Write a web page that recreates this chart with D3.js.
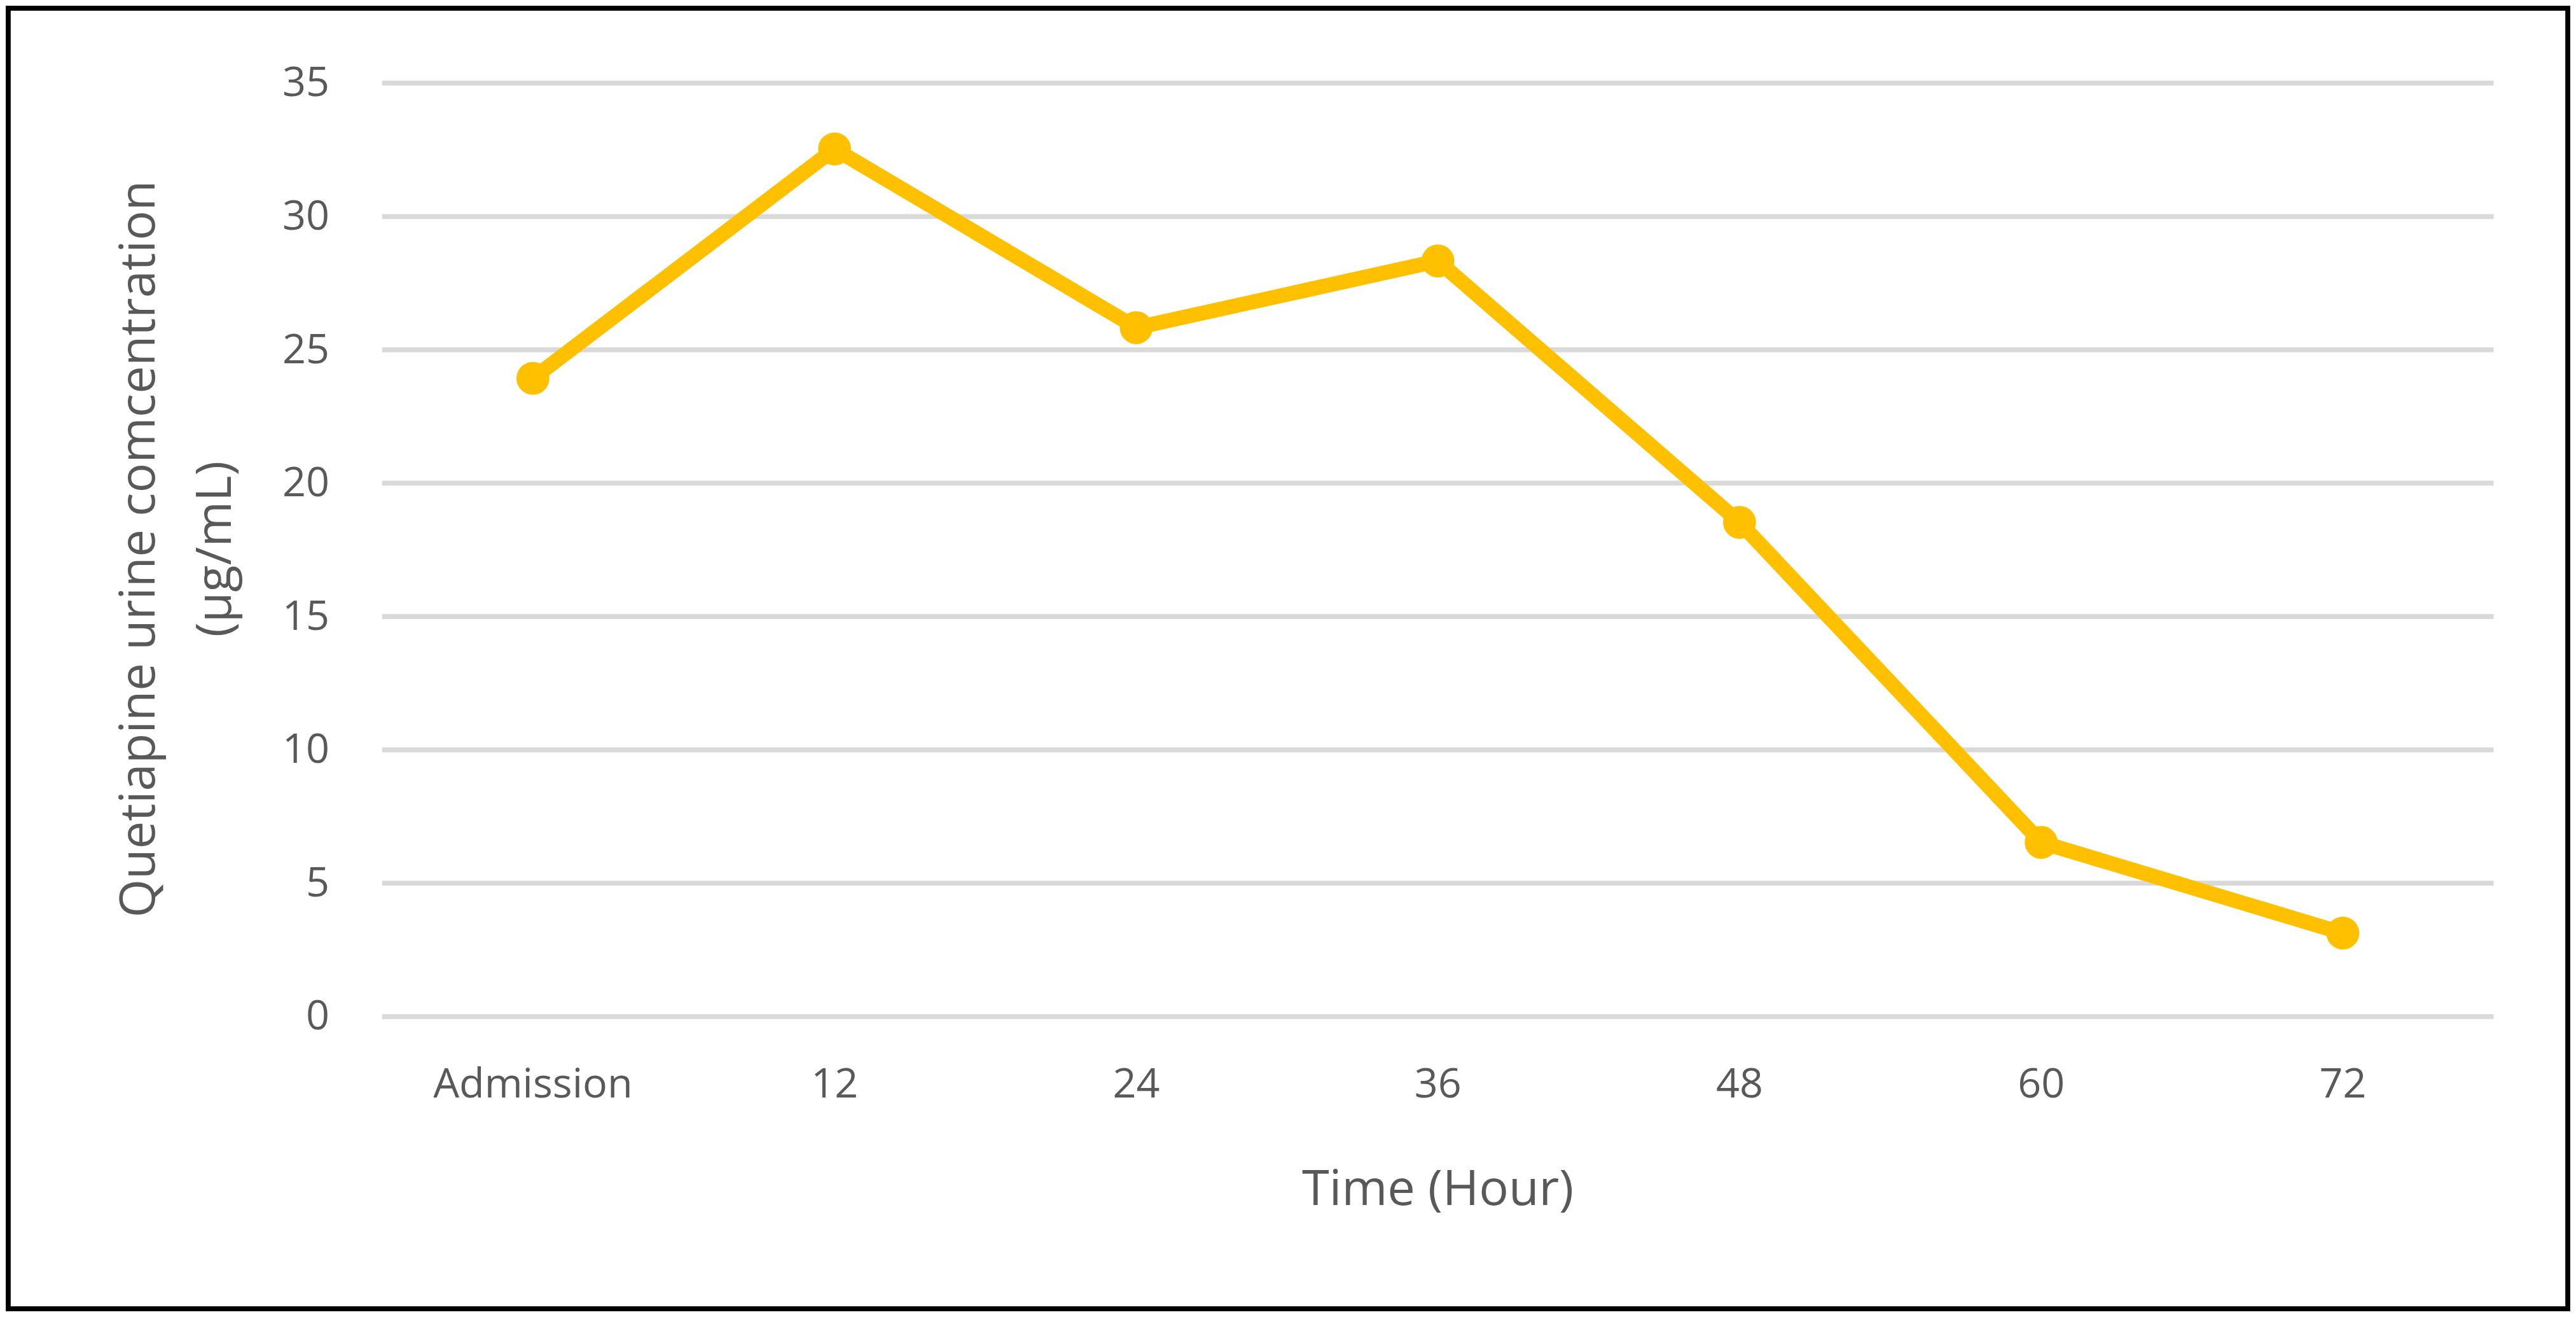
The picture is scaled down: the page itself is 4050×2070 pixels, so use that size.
<!DOCTYPE html>
<html><head><meta charset="utf-8">
<script src="https://cdn.jsdelivr.net/npm/d3@7"></script>
<style>body{margin:0;background:#fff}</style>
</head><body>
<svg id="chart"></svg>
<script>
// quetiapine urine concentration over time
const categories = ["Admission", "12", "24", "36", "48", "60", "72"]
const values = [23.9, 32.5, 25.8, 28.3, 18.5, 6.5, 3.1]
const yTicks = [0, 5, 10, 15, 20, 25, 30, 35]

const W = 1564, H = 800
const font = "'Open Sans', sans-serif"
const margin = { left: 232, right: 50, top: 50, bottom: 183 }
const svg = d3.select("#chart")
    .attr("width", 4050).attr("height", 2070)
    .attr("viewBox", `0 0 ${W} ${H}`)
    .attr("preserveAspectRatio", "none")
    .style("font-family", font)

svg.append("rect").attr("x", 5).attr("y", 5).attr("width", W - 10).attr("height", H - 10)
    .attr("fill", "#fff").attr("stroke", "#000").attr("stroke-width", 3)

const x = d3.scaleBand().domain(categories).range([margin.left, W - margin.right])
const y = d3.scaleLinear().domain([0, 35]).range([H - margin.bottom, margin.top])

const yAxis = svg.append("g")
    .attr("transform", `translate(${margin.left},0)`)
    .call(d3.axisLeft(y).tickValues(yTicks).tickSize(-(W - margin.left - margin.right)).tickPadding(32))
yAxis.select(".domain").remove()
yAxis.selectAll("line").attr("stroke", "#d9d9d9").attr("stroke-width", 3)
yAxis.selectAll("text").attr("fill", "#595959").style("font-size", "25px").style("font-family", font)

const xAxis = svg.append("g")
    .attr("transform", `translate(0,${H - margin.bottom})`)
    .call(d3.axisBottom(x).tickSize(0).tickPadding(32))
xAxis.select(".domain").remove()
xAxis.selectAll("text").attr("fill", "#595959").style("font-size", "25px").style("font-family", font)

const pts = categories.map((c, i) => [x(c) + x.bandwidth() / 2, y(values[i])])
svg.append("path").attr("d", d3.line()(pts))
    .attr("fill", "none").attr("stroke", "#FFC000").attr("stroke-width", 9).attr("stroke-linejoin", "round")
svg.selectAll("circle.pt").data(pts).enter().append("circle")
    .attr("class", "pt").attr("cx", d => d[0]).attr("cy", d => d[1]).attr("r", 10).attr("fill", "#FFC000")

svg.append("text").attr("x", (margin.left + W - margin.right) / 2).attr("y", 732)
    .attr("text-anchor", "middle").attr("fill", "#595959").style("font-size", "30px").text("Time (Hour)")

const yt = svg.append("text").attr("transform", `translate(0,${(margin.top + H - margin.bottom) / 2}) rotate(-90)`)
    .attr("text-anchor", "middle").attr("fill", "#595959").style("font-size", "30px")
yt.append("tspan").attr("x", 0).attr("y", 94).text("Quetiapine urine comcentration")
yt.append("tspan").attr("x", 0).attr("y", 140).text("(µg/mL)")
</script>
</body></html>
